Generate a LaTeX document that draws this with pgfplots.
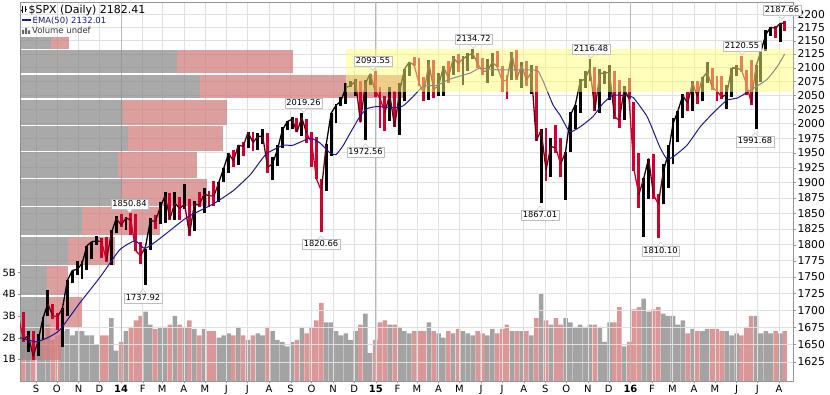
\documentclass[border=0pt]{standalone}
\usepackage{pgfplots}
\pgfplotsset{compat=1.18}
\usepackage{pgfplotstable}
\usepackage{fontspec}
\setmainfont{DejaVu Sans}
\definecolor{dnc}{RGB}{210,0,45}
\definecolor{emac}{RGB}{25,25,150}
\definecolor{vgray}{RGB}{140,140,140}
\definecolor{vpink}{RGB}{210,125,125}
\definecolor{gridc}{RGB}{224,224,224}
\definecolor{yeargrid}{RGB}{185,185,185}
\definecolor{yband}{RGB}{255,255,120}
\definecolor{framec}{RGB}{150,150,150}

% weekly bars: x = day index (0 = 1 Sep 2013), high, low, close, d (1 up / 0 down), volume (B)
\pgfplotstableread{
x hi lo c d v
-25 1709.7 1683.5 1691.4 0 2.0
-18 1696.8 1654.2 1655.8 0 2.1
-11 1669.0 1639.4 1663.5 1 1.9
-4 1669.5 1627.5 1633.0 0 1.8
3 1664.8 1633.4 1655.2 1 1.8
10 1689.9 1656.0 1688.0 1 2.0
17 1729.9 1691.5 1709.9 1 2.6
24 1710.0 1687.0 1691.8 0 1.9
31 1696.5 1670.4 1690.5 0 2.1
38 1703.4 1646.5 1703.2 1 2.3
45 1745.3 1692.1 1744.5 1 2.4
52 1759.8 1740.5 1759.8 1 2.1
59 1775.2 1752.7 1761.6 1 2.3
66 1774.5 1746.2 1770.6 1 2.3
73 1798.2 1760.6 1798.2 1 2.1
80 1804.8 1777.2 1804.8 1 2.1
87 1813.6 1799.7 1805.8 1 1.7
94 1810.0 1779.1 1805.1 0 2.1
101 1811.5 1772.3 1775.3 0 2.1
108 1823.8 1768.0 1818.3 1 2.9
115 1844.9 1818.3 1841.4 1 1.4
122 1849.4 1827.7 1831.4 0 1.8
129 1843.2 1823.7 1842.4 1 2.3
136 1850.84 1815.5 1838.7 0 2.5
143 1849.3 1790.3 1790.3 0 2.8
150 1803.6 1770.5 1782.6 0 3.0
157 1793.0 1737.92 1797.0 1 3.2
164 1841.6 1791.8 1838.6 1 2.6
171 1847.5 1824.6 1836.3 0 2.4
178 1867.9 1832.2 1859.5 1 2.5
185 1883.6 1834.4 1878.0 1 2.5
192 1882.3 1839.6 1841.1 0 2.6
199 1884.0 1839.6 1866.5 1 3.0
206 1875.9 1839.6 1857.6 0 2.6
213 1897.3 1857.6 1865.1 1 2.5
220 1872.5 1814.4 1815.7 0 2.8
227 1869.6 1820.9 1864.9 1 2.4
234 1884.9 1859.7 1863.4 0 2.1
241 1891.3 1850.6 1881.1 1 2.4
248 1886.5 1859.8 1878.5 0 2.3
255 1902.2 1862.4 1877.9 0 2.3
262 1901.3 1868.8 1900.5 1 2.0
269 1924.0 1900.5 1923.6 1 2.1
276 1949.4 1916.0 1949.4 1 2.2
283 1955.6 1925.8 1936.2 0 2.1
290 1963.9 1930.0 1962.9 1 2.5
297 1968.2 1944.7 1961.0 0 2.1
304 1985.6 1958.2 1985.4 1 1.9
311 1985.6 1952.9 1967.6 0 2.1
318 1983.9 1955.6 1978.2 1 2.2
325 1991.4 1965.8 1978.3 1 2.1
332 1984.9 1916.4 1925.2 0 2.5
339 1942.9 1904.8 1931.6 1 2.3
346 1964.0 1928.3 1955.1 1 1.9
353 1994.8 1958.9 1988.4 1 1.8
360 2005.0 1988.4 2003.4 1 1.6
367 2011.2 1990.1 2007.7 1 1.8
374 2009.0 1985.2 1985.5 0 1.9
381 2019.26 1978.5 2010.4 1 2.5
388 2007.7 1966.0 1982.9 0 2.2
395 1986.0 1926.0 1967.9 0 2.5
402 1977.4 1905.4 1906.1 0 2.8
409 1906.0 1820.66 1886.8 0 3.6
416 1965.3 1886.8 1964.6 1 2.7
423 2018.2 1944.6 2018.1 1 2.7
430 2034.3 2001.4 2031.9 1 2.3
437 2046.2 2030.2 2039.8 1 2.1
444 2071.5 2034.5 2063.5 1 2.2
451 2075.8 2064.8 2067.6 1 1.9
458 2079.5 2049.6 2075.4 1 2.3
465 2075.8 2002.3 2002.3 0 2.6
472 2077.9 1972.56 2070.7 1 3.1
479 2088.8 2069.3 2088.8 1 1.3
486 2093.55 2046.2 2058.2 0 1.9
493 2064.4 1992.4 2044.8 0 2.7
500 2049.3 1988.1 2019.4 0 2.8
507 2064.6 2004.5 2051.8 1 2.6
514 2057.6 1994.8 1995.0 0 2.6
521 2072.4 1980.9 2055.5 1 2.5
528 2097.0 2039.7 2097.0 1 2.3
535 2110.6 2085.4 2110.3 1 2.2
542 2119.6 2103.0 2104.5 0 2.3
549 2117.5 2067.3 2071.3 0 2.3
556 2083.2 2039.7 2053.4 0 2.3
563 2113.9 2041.2 2108.1 1 2.7
570 2114.9 2045.5 2061.0 0 2.3
577 2089.8 2048.4 2067.0 1 2.2
584 2102.6 2048.9 2102.1 1 2.0
591 2111.9 2072.1 2081.2 0 2.3
598 2120.5 2085.7 2117.7 1 2.2
605 2125.9 2091.2 2108.3 0 2.4
612 2121.0 2067.9 2116.1 1 2.3
619 2126.6 2093.5 2122.7 1 2.2
626 2134.72 2116.5 2126.1 1 2.1
633 2126.1 2099.2 2107.4 0 2.3
640 2117.7 2085.7 2092.8 0 2.2
647 2115.0 2072.1 2094.1 1 2.1
654 2126.6 2084.0 2110.0 1 2.4
661 2129.9 2101.4 2101.5 0 2.2
668 2102.6 2056.3 2076.8 0 2.4
675 2085.7 2044.0 2076.6 0 2.6
682 2128.8 2076.6 2126.6 1 2.3
689 2132.8 2077.9 2079.7 0 2.3
696 2110.6 2063.5 2103.8 1 2.3
703 2112.7 2067.0 2077.6 0 2.3
710 2105.4 2052.1 2091.5 1 2.1
717 2103.5 1970.9 1970.9 0 2.9
724 1990.2 1867.01 1988.9 1 4.0
731 1992.4 1903.1 1921.2 0 2.8
738 1975.0 1910.0 1961.0 1 2.6
745 1996.9 1949.8 1958.0 0 2.9
752 1974.9 1908.8 1931.3 0 2.6
759 1951.4 1871.9 1951.4 1 2.9
766 2020.9 1951.4 2014.9 1 2.7
773 2033.5 1990.7 2033.1 1 2.5
780 2079.7 2018.9 2075.2 1 2.6
787 2094.3 2062.5 2079.4 1 2.5
794 2116.48 2076.5 2099.2 1 2.6
801 2100.7 2022.9 2023.0 0 2.6
808 2097.1 2019.4 2089.2 1 2.5
815 2094.1 2070.3 2090.1 1 1.8
822 2104.3 2042.4 2091.7 1 2.7
829 2093.8 2008.1 2012.4 0 2.7
836 2076.7 1993.3 2005.6 0 3.4
843 2067.4 2005.9 2061.0 1 1.6
850 2081.6 2043.6 2043.9 0 1.8
857 2038.2 1918.5 1922.0 0 3.3
864 1950.3 1857.8 1880.3 0 3.4
871 1908.3 1812.3 1906.9 1 3.8
878 1940.2 1872.7 1940.2 1 3.2
885 1947.2 1872.7 1880.0 0 3.3
892 1881.6 1810.1 1864.8 0 3.4
899 1930.7 1864.8 1917.8 1 3.1
906 1963.0 1891.0 1948.0 1 3.0
913 2009.1 1931.8 2000.0 1 3.0
920 2022.4 1969.3 2022.2 1 2.6
927 2052.4 2010.1 2049.6 1 2.8
934 2056.6 2022.5 2035.9 0 2.2
941 2075.1 2022.0 2072.8 1 2.4
948 2075.2 2033.8 2047.6 0 2.3
955 2083.2 2039.7 2080.7 1 2.3
962 2111.0 2072.6 2091.6 1 2.4
969 2099.9 2060.2 2065.3 0 2.4
976 2083.8 2039.5 2057.1 0 2.4
983 2084.9 2043.1 2046.6 0 2.3
990 2067.7 2025.9 2052.3 1 2.3
997 2099.1 2047.3 2099.1 1 2.1
1004 2105.3 2085.4 2099.1 1 2.2
1011 2120.55 2091.3 2096.1 0 2.1
1018 2096.1 2050.4 2071.2 0 2.5
1025 2113.3 2032.1 2037.4 0 3.0
1032 2104.3 1991.68 2103.0 1 3.0
1039 2131.7 2074.0 2129.9 1 2.2
1046 2169.1 2131.5 2161.7 1 2.3
1053 2175.6 2159.1 2175.0 1 2.2
1060 2177.1 2155.8 2173.6 0 2.3
1067 2182.9 2147.6 2182.9 1 2.2
1073 2187.66 2168.5 2182.4 0 2.3
}\weekly

% volume-by-price zone: low, high, end of grey part, end of red part (x in days)
\newcommand\vbp[4]{%
  \addplot[draw=none, fill=vgray, fill opacity=0.75, forget plot] coordinates {(-30,#1) (#3,#1) (#3,#2) (-30,#2)} -- cycle;
  \addplot[draw=none, fill=vpink, fill opacity=0.75, forget plot] coordinates {(#3,#1) (#4,#1) (#4,#2) (#3,#2)} -- cycle;
}

\begin{document}
\begin{tikzpicture}
\useasboundingbox (0,0) rectangle (830bp,395bp);
\pgfplotsset{base/.style={at={(20bp,14bp)}, anchor=south west, scale only axis,
  width=773.3bp, height=379bp, xmin=-22.9, xmax=1085.4}}

% ---------- volume ----------
\begin{axis}[base, ymin=0, ymax=17.47, hide x axis, axis y line*=left,
  y axis line style={draw=none}, ytick={1,2,3,4,5}, yticklabels={1B,2B,3B,4B,5B},
  tick align=outside, major tick length=2.5bp, ytick style={framec},
  yticklabel style={font=\fontsize{10}{10}\selectfont, inner xsep=1.5bp}]
\addplot[ybar, bar width=4.5bp, bar shift=0pt, draw=none, fill=vgray, fill opacity=0.8,
  restrict expr to domain={\thisrow{d}}{0.5:1.5}] table[x=x, y=v] {\weekly};
\addplot[ybar, bar width=4.5bp, bar shift=0pt, draw=none, fill=vpink, fill opacity=0.8,
  restrict expr to domain={\thisrow{d}}{-0.5:0.5}] table[x=x, y=v] {\weekly};
\end{axis}

% ---------- price ----------
\begin{axis}[base, ymode=log, ymin=1598.6, ymax=2223.7,
  axis line style={framec},
  xtick={0,30,61,91,122,153,181,212,242,273,303,334,365,395,426,456,487,518,546,577,607,638,668,699,730,760,791,821,852,883,912,943,973,1004,1034,1065},
  xticklabels={S,O,N,D,\textbf{14},F,M,A,M,J,J,A,S,O,N,D,\textbf{15},F,M,A,M,J,J,A,S,O,N,D,\textbf{16},F,M,A,M,J,J,A},
  ytick={1625,1650,1675,1700,1725,1750,1775,1800,1825,1850,1875,1900,1925,1950,1975,2000,2025,2050,2075,2100,2125,2150,2175,2200},
  yticklabels={1625,1650,1675,1700,1725,1750,1775,1800,1825,1850,1875,1900,1925,1950,1975,2000,2025,2050,2075,2100,2125,2150,2175,2200},
  xtick pos=left, ytick pos=right, yticklabel pos=right,
  tick align=outside, major tick length=2.5bp, tick style={framec},
  minor tick num=0,
  grid=major, major grid style={gridc, line width=0.5bp},
  extra x ticks={122,487,852}, extra x tick labels={},
  extra x tick style={grid=major, major grid style={yeargrid, line width=0.7bp}},
  xticklabel style={font=\fontsize{10}{10}\selectfont, inner ysep=2bp},
  yticklabel style={font=\fontsize{10.8}{10.8}\selectfont, inner xsep=1.5bp},
  colormap={ud}{color(0)=(dnc) color(1)=(black)}, point meta min=0, point meta max=1]

\vbp{2134.9}{2157.5}{21.5}{47.3}
\vbp{2089.5}{2132.7}{202.1}{368.4}
\vbp{2044.5}{2087.3}{235.1}{528.9}
\vbp{1998.3}{2042.3}{124.7}{273.8}
\vbp{1953.2}{1996.1}{131.9}{268.0}
\vbp{1907.5}{1951.0}{117.5}{230.8}
\vbp{1861.8}{1905.3}{123.3}{245.1}
\vbp{1815.0}{1859.6}{65.9}{177.7}
\vbp{1768.4}{1812.8}{45.9}{113.2}
\vbp{1722.2}{1766.2}{15.8}{45.9}
\vbp{1675.6}{1720.0}{15.8}{65.9}
\vbp{1628.2}{1673.4}{7.2}{35.8}

% price bars (weekly high-low)
\addplot[draw=none, mark=none, forget plot, restrict expr to domain={\thisrow{d}}{0.5:1.5},
  error bars/.cd, y dir=plus, y explicit, error mark=none,
  error bar style={draw=black, line width=2.9bp}]
  table[x=x, y=lo, y error expr=\thisrow{hi}-\thisrow{lo}] {\weekly};
\addplot[draw=none, mark=none, forget plot, restrict expr to domain={\thisrow{d}}{-0.5:0.5},
  error bars/.cd, y dir=plus, y explicit, error mark=none,
  error bar style={draw=dnc, line width=2.9bp}]
  table[x=x, y=lo, y error expr=\thisrow{hi}-\thisrow{lo}] {\weekly};
% weekly closes
\addplot[mesh, shader=flat mean, line width=1.3bp, mark=none, forget plot,
  point meta=\thisrow{d}] table[x=x, y=c] {\weekly};

% EMA(50)
\addplot[emac, line width=1bp, mark=none, smooth, tension=0.3] coordinates {
(-23,1660) (0,1654) (17,1660) (34,1671) (63,1711) (92,1750) (120,1792) (142,1806)
(156,1794) (178,1810) (216,1843) (254,1865) (283,1887) (307,1913) (321,1935) (331,1949)
(354,1963) (368,1963) (393,1975) (407,1967) (421,1950) (430,1947) (440,1962) (450,1983)
(464,2012) (474,2026) (489,2030) (512,2028) (526,2031) (540,2047) (555,2066) (575,2068)
(593,2079) (622,2090) (636,2099) (661,2096) (689,2096) (712,2096) (720,2093) (727,2075)
(741,2033) (751,2015) (765,1986) (780,1995) (798,2012) (813,2036) (827,2050) (847,2049)
(856,2046) (876,2012) (894,1960) (904,1940) (913,1943) (933,1963) (952,1995) (970,2018)
(990,2041) (1005,2045) (1019,2055) (1033,2066) (1048,2079) (1062,2101) (1073,2125)};

% highlighted band
\addplot[draw=none, fill=yband, fill opacity=0.5, forget plot] coordinates
  {(444.3,2056.6) (1090,2056.6) (1090,2134) (444.3,2134)} -- cycle;
\end{axis}

% header
\draw[black, line width=0.8bp] (22.5bp,382bp) -- (22.5bp,388.5bp) (21bp,385bp) -- (22.5bp,385bp);
\draw[black, line width=0.8bp] (25.5bp,383bp) -- (25.5bp,389bp) (25.5bp,386bp) -- (27bp,386bp);
\node[anchor=base west, inner sep=0, font=\fontsize{11}{11}\selectfont] at (28.5bp,381.7bp) {\$SPX (Daily) 2182.41};
\draw[emac, line width=2bp] (22bp,374.5bp) -- (31bp,374.5bp);
\node[anchor=base west, inner sep=0, text=emac, font=\fontsize{8.5}{8.5}\selectfont] at (32.5bp,371bp) {EMA(50) 2132.01};
\fill[gray!80!black] (22bp,361bp) rectangle (24bp,365bp) (25bp,361bp) rectangle (27bp,367bp) (28bp,361bp) rectangle (30bp,364.5bp);
\node[anchor=base west, inner sep=0, text=black!80, font=\fontsize{8.5}{8.5}\selectfont] at (32bp,361bp) {Volume undef};

% value callouts
\tikzset{co/.style={draw=black!25, fill=white, inner xsep=1.6bp, inner ysep=1.2bp, text height=6.2bp, text depth=1.6bp, font=\fontsize{8.3}{8.3}\selectfont}}
\newcommand\hi[3]{\node[co] (n) at (#1bp,#2bp) {#3};
  \draw[black!25, fill=white] ([xshift=-3bp]n.south) -- ++(3bp,-3.5bp) -- ++(3bp,3.5bp);}
\newcommand\lo[3]{\node[co] (n) at (#1bp,#2bp) {#3};
  \draw[black!25, fill=white] ([xshift=-3bp]n.north) -- ++(3bp,3.5bp) -- ++(3bp,-3.5bp);}
\hi{782}{384.5}{2187.66}
\hi{473.5}{355.5}{2134.72}
\hi{591}{345.5}{2116.48}
\hi{742}{348.7}{2120.55}
\hi{373}{333.5}{2093.55}
\hi{303.5}{291.5}{2019.26}
\lo{365.5}{242.5}{1972.56}
\hi{129.5}{191}{1850.84}
\lo{321}{150.5}{1820.66}
\lo{143}{97}{1737.92}
\lo{540}{180}{1867.01}
\lo{660.5}{144}{1810.10}
\lo{755}{253.3}{1991.68}
\end{tikzpicture}
\end{document}
